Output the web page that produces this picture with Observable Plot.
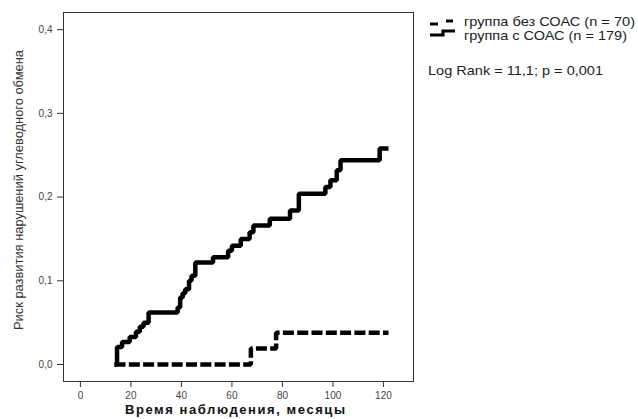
<!DOCTYPE html>
<html>
<head>
<meta charset="utf-8">
<script src="https://cdn.jsdelivr.net/npm/d3@7"></script>
<script src="https://cdn.jsdelivr.net/npm/@observablehq/plot@0.6"></script>
<style>
  html, body { margin: 0; padding: 0; background: #fff; }
  #chart { width: 638px; height: 419px; }
</style>
</head>
<body>
<div id="chart"></div>
<script>
// ---- data ----
const groupNames = ["группа без СОАС (n = 70)", "группа с СОАС (n = 179)"];

// group without OSAS (dashed)
const tNoOsas = [13.5, 67.5, 77.5, 122];
const vNoOsas = [0, 0.019, 0.038, 0.038];

// group with OSAS (solid)
const tOsas = [13.5, 14.5, 16.5, 19.5, 22, 23.5, 25, 27, 38.5, 39.5, 40.5, 41.5, 43, 44, 45.5,
               52.5, 58.5, 60, 63.5, 67, 68.5, 75, 83, 86.5, 97, 99, 101.5, 103, 118.5, 122];
const vOsas = [0, 0.021, 0.027, 0.033, 0.039, 0.045, 0.05, 0.062, 0.068, 0.08, 0.085, 0.09, 0.1, 0.106, 0.122,
               0.128, 0.136, 0.142, 0.15, 0.158, 0.166, 0.174, 0.184, 0.204, 0.212, 0.22, 0.232, 0.244, 0.258, 0.258];

const xTicks = [0, 20, 40, 60, 80, 100, 120];
const yTicks = [0, 0.1, 0.2, 0.3, 0.4];

const xLabel = "Время наблюдения, месяцы";
const yLabel = "Риск развития нарушений углеводного обмена";
const statText = "Log Rank = 11,1; p = 0,001";

const rowsNo = tNoOsas.map((t, i) => ({t, v: vNoOsas[i], group: groupNames[0]}));
const rowsYes = tOsas.map((t, i) => ({t, v: vOsas[i], group: groupNames[1]}));

const fmt = d => d.toFixed(1).replace(".", ",");

const chart = Plot.plot({
  width: 638,
  height: 419,
  marginLeft: 63,
  marginRight: 225,
  marginTop: 12,
  marginBottom: 38,
  style: {fontFamily: "'Liberation Sans', Arial, sans-serif", fontSize: "10px", color: "#444", background: "#fff"},
  x: {domain: [-6.7, 131.9]},
  y: {domain: [-0.0203, 0.4205]},
  marks: [
    Plot.frame({stroke: "#333", strokeWidth: 1}),
    Plot.axisX({ticks: xTicks, tickSize: 6, tickPadding: 4, label: null, tickFormat: d => String(d), stroke: "#333"}),
    Plot.axisY({ticks: yTicks, tickSize: 6, tickPadding: 5, label: null, tickFormat: fmt, stroke: "#333"}),
    Plot.line(rowsNo, {x: "t", y: "v", curve: "step-after", stroke: "#000", strokeWidth: 4.5,
      strokeDasharray: "11,3.3", strokeLinejoin: "miter", strokeLinecap: "butt"}),
    Plot.line(rowsYes, {x: "t", y: "v", curve: "step-after", stroke: "#000", strokeWidth: 4.5,
      strokeLinejoin: "miter", strokeLinecap: "butt"})
  ]
});

document.getElementById("chart").appendChild(chart);

// ---- labels and legend ----
const svg = d3.select(chart);
const font = "'Liberation Sans', Arial, sans-serif";

svg.append("text")
  .attr("transform", "translate(23,190) rotate(-90)")
  .attr("text-anchor", "middle")
  .attr("font-family", font)
  .attr("font-size", 12.5)
  .attr("fill", "#333")
  .attr("textLength", 280)
  .attr("lengthAdjust", "spacingAndGlyphs")
  .text(yLabel);

svg.append("text")
  .attr("x", 235).attr("y", 414)
  .attr("text-anchor", "middle")
  .attr("font-family", font)
  .attr("font-size", 13)
  .attr("font-weight", "bold")
  .attr("fill", "#111")
  .attr("textLength", 220)
  .attr("lengthAdjust", "spacing")
  .text(xLabel);

const lg = svg.append("g").attr("text-anchor", "start");
lg.append("path").attr("d", "M430,24 h8").attr("stroke", "#000").attr("stroke-width", 3).attr("fill", "none");
lg.append("path").attr("d", "M446,21 h7").attr("stroke", "#000").attr("stroke-width", 3).attr("fill", "none");
lg.append("path").attr("d", "M430,35 H443 V31 H455").attr("stroke", "#000").attr("stroke-width", 3.2).attr("fill", "none");

const addText = (x, y, txt, len) => lg.append("text")
  .attr("x", x).attr("y", y).attr("text-anchor", "start")
  .attr("font-family", font).attr("font-size", 13.5).attr("fill", "#222")
  .attr("textLength", len).attr("lengthAdjust", "spacingAndGlyphs")
  .text(txt);

addText(464, 26, groupNames[0], 171);
addText(464, 40, groupNames[1], 163);
addText(428, 75, statText, 175);
</script>
</body>
</html>
